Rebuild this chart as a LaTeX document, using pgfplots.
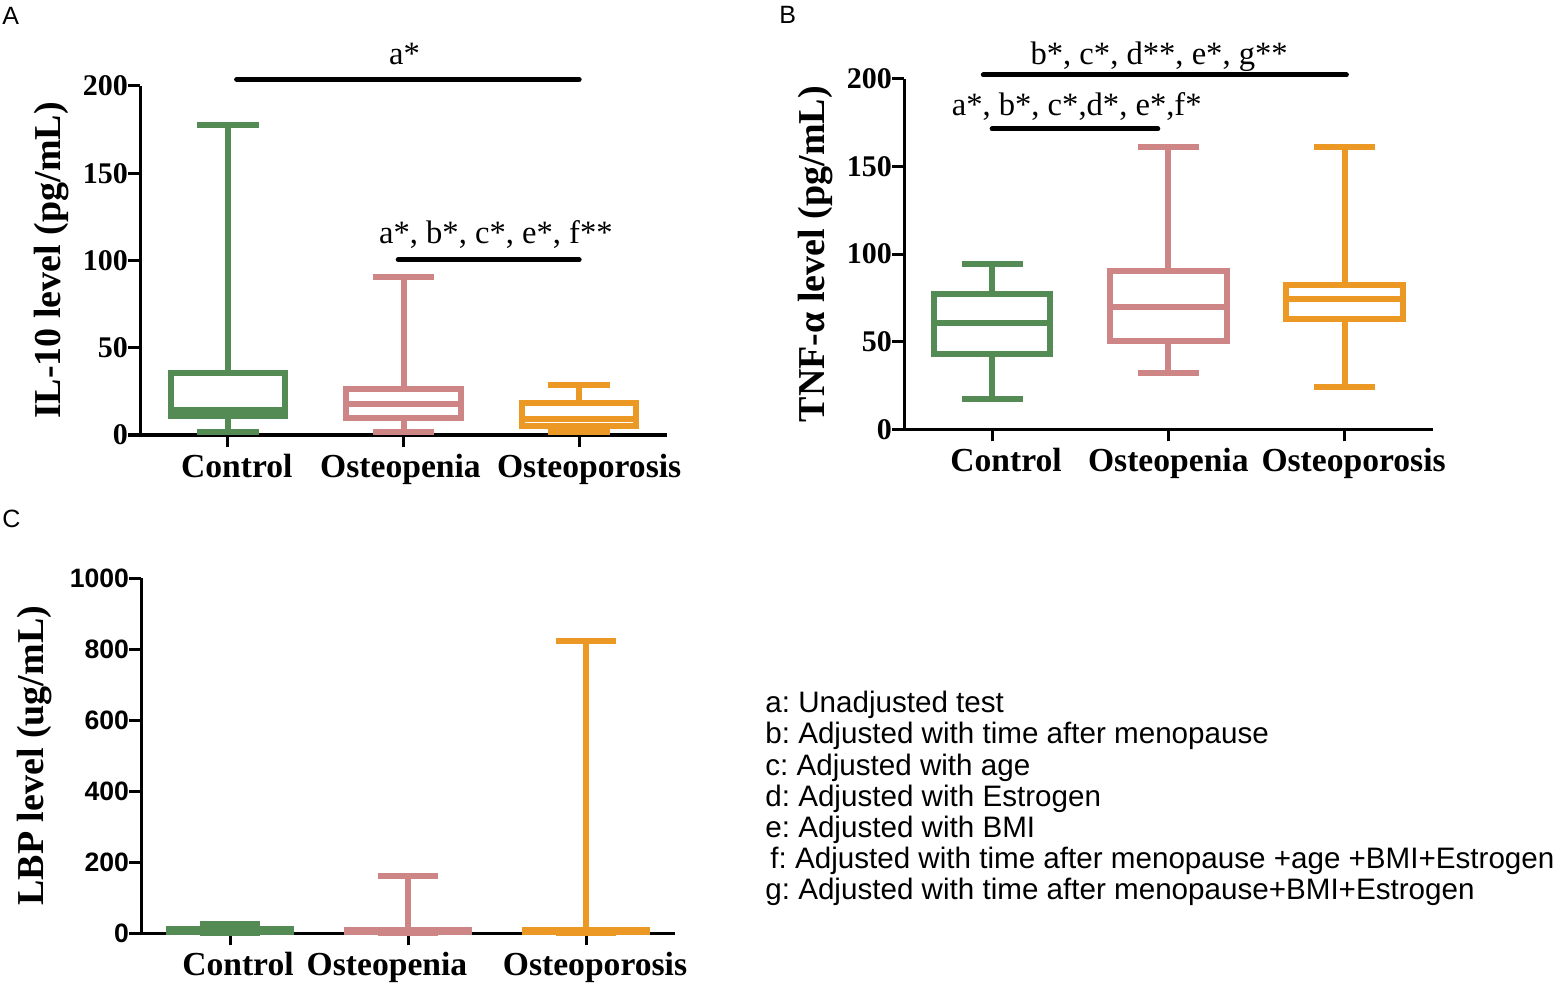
\documentclass[border=0pt]{standalone}
\usepackage{fontspec}
\setmainfont{Liberation Serif}
\setsansfont{Liberation Sans}
\usepackage{pgfplots}
\pgfplotsset{compat=1.18}
\usepgfplotslibrary{statistics}
\definecolor{cg}{RGB}{84,139,84}
\definecolor{cp}{RGB}{205,133,133}
\definecolor{co}{RGB}{236,152,37}
\frenchspacing

\pgfplotsset{
  panel/.style={
    scale only axis, clip=false,
    axis x line=bottom, axis y line=left,
    axis line style={line width=1.5pt, black, -},
    every outer x axis line/.append style={-},
    every outer y axis line/.append style={-},
    tick align=outside, major tick length=6pt, tick pos=left,
    tick style={line width=1.5pt, black},
    xmin=0.5, xmax=3.5, xtick={1,2,3},
    x tick label style={font=\bfseries\fontsize{16.8}{18}\selectfont},
    y tick label style={font=\bfseries\fontsize{15}{16}\selectfont, xshift=3.5pt},
    /pgf/number format/assume math mode=true,
    /pgf/number format/1000 sep={},
    boxplot/draw direction=y,
  },
  ylab/.style={every axis y label/.style={at={(axis description cs:#1,0.5)}, rotate=90, anchor=center, font=\bfseries\fontsize{19}{22}\selectfont}},
  bx/.style={line width=3pt, line join=miter},
  sig/.style={black, line width=2.5pt, line cap=round},
}

\begin{document}
\begin{tikzpicture}
\path[use as bounding box] (0,0) rectangle (778.5pt,-491.5pt);

% ---------- Panel A ----------
\begin{axis}[panel,
  at={(70pt,-217.5pt)}, anchor=south west,
  width=263.5pt, height=174.5pt,
  ymin=0, ymax=200, ytick={0,50,100,150,200},
  xticklabels={{\hspace*{9pt}Control},{Osteopenia\hspace*{3pt}},{\hspace*{10pt}Osteoporosis}},
  ylabel={IL-10 level (pg/mL)}, ylab=-0.167,
]
\addplot[cg, bx, boxplot prepared={draw position=1, lower whisker=1.9, lower quartile=11, median=14.5, upper quartile=35.8, upper whisker=177.5, box extend=0.65, whisker extend=0.35}] coordinates {};
\addplot[cp, bx, boxplot prepared={draw position=2, lower whisker=1.9, lower quartile=9.5, median=17.7, upper quartile=26.3, upper whisker=90.5, box extend=0.65, whisker extend=0.35}] coordinates {};
\addplot[co, bx, boxplot prepared={draw position=3, lower whisker=1.9, lower quartile=5.3, median=9.1, upper quartile=18.1, upper whisker=28.6, box extend=0.65, whisker extend=0.35}] coordinates {};
\addplot[sig] coordinates {(1.05,203.8) (3.0,203.8)};
\addplot[sig] coordinates {(1.97,100.4) (3.0,100.4)};
\node[anchor=base, font=\fontsize{16.3}{18}\selectfont, inner sep=0] at (axis cs:2.006,212.4) {a*};
\node[anchor=base, font=\fontsize{16.3}{18}\selectfont, inner sep=0] at (axis cs:2.526,109.7) {a*, b*, c*, e*, f**};
\end{axis}

% ---------- Panel B ----------
\begin{axis}[panel,
  at={(452pt,-214.65pt)}, anchor=south west,
  width=264.35pt, height=175.15pt,
  ymin=0, ymax=200, ytick={0,50,100,150,200},
  xticklabels={{\hspace*{14pt}Control},{Osteopenia},{\hspace*{9pt}Osteoporosis}},
  ylabel={TNF-α level (pg/mL)}, ylab=-0.168,
]
\addplot[cg, bx, boxplot prepared={draw position=1, lower whisker=17.1, lower quartile=43, median=60.5, upper quartile=77.1, upper whisker=94.4, box extend=0.66, whisker extend=0.345}] coordinates {};
\addplot[cp, bx, boxplot prepared={draw position=2, lower whisker=32, lower quartile=50.4, median=69.8, upper quartile=90.6, upper whisker=161.3, box extend=0.66, whisker extend=0.345}] coordinates {};
\addplot[co, bx, boxplot prepared={draw position=3, lower whisker=24.3, lower quartile=63, median=74.6, upper quartile=82.2, upper whisker=161.3, box extend=0.66, whisker extend=0.345}] coordinates {};
\addplot[sig] coordinates {(0.95,202.3) (3.01,202.3)};
\addplot[sig] coordinates {(1.0,171.5) (1.94,171.5)};
\node[anchor=base, font=\fontsize{16.3}{18}\selectfont, inner sep=0] at (axis cs:1.948,208.4) {b*, c*, d**, e*, g**};
\node[anchor=base, font=\fontsize{16.3}{18}\selectfont, inner sep=0] at (axis cs:1.48,178.9) {a*, b*, c*,d*, e*,f*};
\end{axis}

% ---------- Panel C ----------
\begin{axis}[panel,
  at={(70.5pt,-466.65pt)}, anchor=south west,
  width=267pt, height=177.5pt,
  ymin=0, ymax=1000, ytick={0,200,400,600,800,1000},
  y tick label style={font=\sffamily\bfseries\fontsize{13.3}{14}\selectfont, xshift=0pt},
  xticklabels={{\hspace*{8pt}Control},{Osteopenia\hspace*{21pt}},{\hspace*{9pt}Osteoporosis}},
  ylabel={LBP level (ug/mL)}, ylab=-0.1985,
]
\addplot[cg, bx, boxplot prepared={draw position=1, lower whisker=1, lower quartile=4, median=7, upper quartile=12, upper whisker=27, box extend=0.68, whisker extend=0.34}] coordinates {};
\addplot[cp, bx, boxplot prepared={draw position=2, lower whisker=1, lower quartile=3, median=6, upper quartile=10, upper whisker=162, box extend=0.68, whisker extend=0.34}] coordinates {};
\addplot[co, bx, boxplot prepared={draw position=3, lower whisker=1, lower quartile=3, median=6, upper quartile=10, upper whisker=823, box extend=0.68, whisker extend=0.34}] coordinates {};
\end{axis}

% ---------- Panel letters ----------
\node[anchor=base west, inner sep=0, font=\sffamily\fontsize{12.5}{14}\selectfont] at (1pt,-12.5pt) {A};
\node[anchor=base west, inner sep=0, font=\sffamily\fontsize{12.5}{14}\selectfont] at (389.5pt,-12pt) {B};
\node[anchor=base west, inner sep=0, font=\sffamily\fontsize{12.5}{14}\selectfont] at (1pt,-264pt) {C};

% ---------- Legend text ----------
\begin{scope}[every node/.style={anchor=base west, inner sep=0, font=\sffamily\fontsize{14.8}{17}\selectfont}]
\node at (382.5pt,-356pt) {a: Unadjusted test};
\node at (382.5pt,-371.5pt) {b: Adjusted with time after menopause};
\node at (382.5pt,-387.5pt) {c: Adjusted with age};
\node at (382.5pt,-403pt) {d: Adjusted with Estrogen};
\node at (382.5pt,-418.5pt) {e: Adjusted with BMI};
\node at (385pt,-434pt) {f: Adjusted with time after menopause +age +BMI+Estrogen};
\node at (382.5pt,-449.5pt) {g: Adjusted with time after menopause+BMI+Estrogen};
\end{scope}
\end{tikzpicture}
\end{document}
